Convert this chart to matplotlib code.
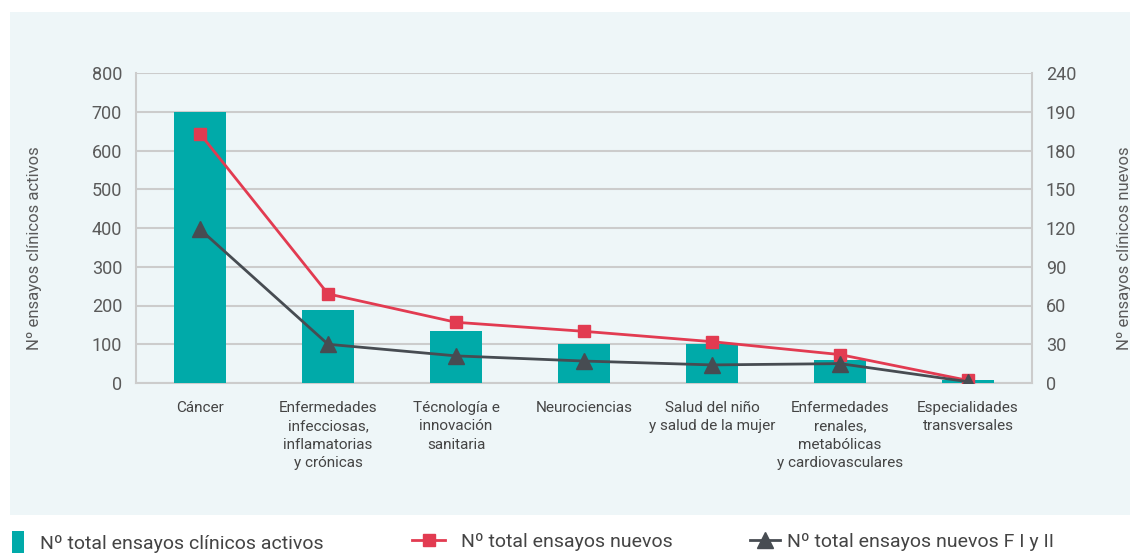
import matplotlib
matplotlib.use("Agg")
import matplotlib.pyplot as plt
from matplotlib.patches import Rectangle, Patch
from matplotlib.lines import Line2D

categories = ["Cáncer", "Enfermedades\ninfecciosas,\ninflamatorias\ny crónicas",
              "Técnología e\ninnovación\nsanitaria", "Neurociencias",
              "Salud del niño\ny salud de la mujer",
              "Enfermedades\nrenales,\nmetabólicas\ny cardiovasculares",
              "Especialidades\ntransversales"]
activos = [700, 188, 134, 101, 101, 60, 8]
nuevos = [193, 69, 47, 40, 32, 22, 2]
nuevos_f12 = [119, 30, 21, 17, 14, 15, 1]
left_ticks = [0, 100, 200, 300, 400, 500, 600, 700, 800]
right_ticks = [0, 30, 60, 90, 120, 150, 180, 210, 240]
right_tick_labels = ["0", "30", "60", "90", "120", "150", "180", "190", "240"]

TEAL = "#00AAA9"
RED = "#E23B51"
DARK = "#474C52"
BG = "#EEF6F8"
GRID = "#CCCCCC"
TXT = "#5A5A5A"

plt.rcParams['font.family'] = ['Roboto', 'DejaVu Sans']

W, H = 1130, 553
fig = plt.figure(figsize=(W / 100, H / 100), dpi=100)
fig.patch.set_facecolor("white")
fig.add_artist(Rectangle((10 / W, 1 - 515 / H), (W - 10) / W, (515 - 12) / H,
                         transform=fig.transFigure, facecolor=BG, edgecolor="none", zorder=-10))

ax = fig.add_axes([136 / W, 1 - 383 / H, (1032 - 136) / W, (383 - 73) / H])
ax.set_facecolor("none")
x = list(range(len(categories)))
ax.bar(x, activos, width=0.41, color=TEAL, zorder=3)
ax.set_xlim(-0.5, len(categories) - 0.5)
ax.set_ylim(0, 800)
ax.set_yticks(left_ticks)
ax.yaxis.grid(True, color=GRID, linewidth=1.5, zorder=0)
ax.set_axisbelow(True)
for s in ["left", "right", "bottom", "top"]:
    ax.spines[s].set_color(GRID)
    ax.spines[s].set_linewidth(1.5)
ax.spines["top"].set_visible(False)
ax.tick_params(axis="y", length=0, pad=10, labelsize=13, labelcolor=TXT)
ax.set_xticks(x)
ax.set_xticklabels(categories, fontsize=11, color="#444444", linespacing=1.4, va="top")
ax.tick_params(axis="x", length=0, pad=13)
ax.set_ylabel("Nº ensayos clínicos activos", fontsize=12, color=TXT)
ax.yaxis.set_label_coords((42 - 136) / 896, 0.435)

ax2 = ax.twinx()
ax2.set_ylim(0, 240)
ax2.set_yticks(right_ticks)
ax2.set_yticklabels(right_tick_labels)
ax2.tick_params(axis="y", length=0, pad=10, labelsize=13, labelcolor=TXT)
for s in ["left", "right", "bottom", "top"]:
    ax2.spines[s].set_visible(False)
ax2.plot(x, nuevos, color=RED, lw=2, marker="s", ms=9, zorder=4)
ax2.plot(x, nuevos_f12, color=DARK, lw=2, marker="^", ms=11, zorder=5)
ax2.set_ylabel("Nº ensayos clínicos nuevos", fontsize=12, color=TXT)
ax2.yaxis.set_label_coords((1117 - 136) / 896, 0.435)

# Legend
lg_fs = 14
common = dict(loc="center left", frameon=False, fontsize=lg_fs, borderaxespad=0,
              borderpad=0, labelcolor="#444444")
h1 = Patch(facecolor=TEAL, edgecolor="none")
fig.legend([h1], ["Nº total ensayos clínicos activos"],
           bbox_to_anchor=(12 / W, 1 - 542 / H), handlelength=0.62, handleheight=1.3,
           handletextpad=0.82, **common)
h2 = Line2D([], [], color=RED, lw=2, marker="s", ms=9)
fig.legend([h2], ["Nº total ensayos nuevos"],
           bbox_to_anchor=(412 / W, 1 - 542 / H), handlelength=1.7,
           handletextpad=0.82, **common)
h3 = Line2D([], [], color=DARK, lw=2, marker="^", ms=11)
fig.legend([h3], ["Nº total ensayos nuevos F I y II"],
           bbox_to_anchor=(750 / W, 1 - 542 / H), handlelength=1.55,
           handletextpad=0.36, **common)

fig.savefig("out.png", dpi=100, facecolor="white")
